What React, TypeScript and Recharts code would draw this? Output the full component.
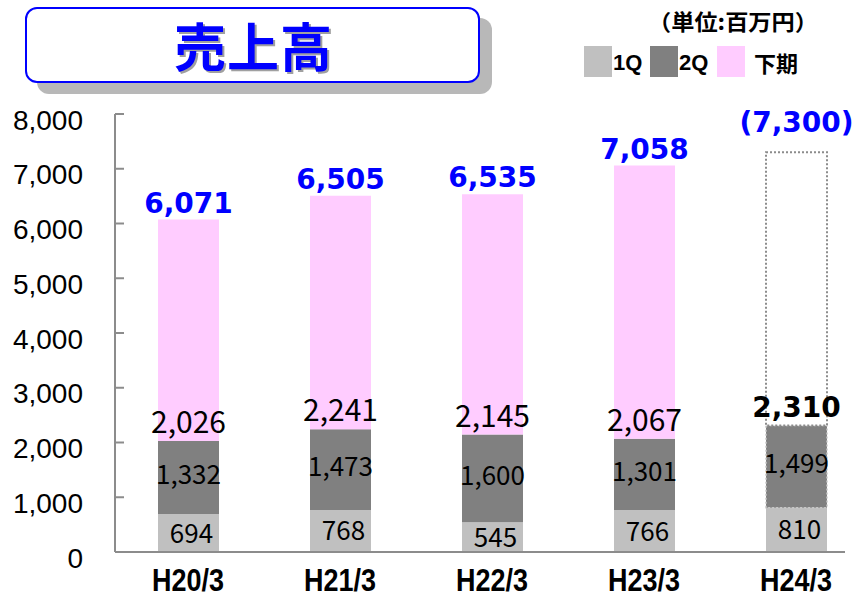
import React from 'react';
import { BarChart, Bar, XAxis, YAxis, Cell, LabelList } from 'recharts';

const categories = ['H20/3', 'H21/3', 'H22/3', 'H23/3', 'H24/3'];
const q1Values = [694, 768, 545, 766, 810];
const q2Values = [1332, 1473, 1600, 1301, 1499];
const firstHalfTotals = [2026, 2241, 2145, 2067, 2310];
const yearTotals = [6071, 6505, 6535, 7058, 7300];
const forecastIndex = 4;
const yTicks = [0, 1000, 2000, 3000, 4000, 5000, 6000, 7000, 8000];

const BLUE = '#0000ff';
const JP = '"Noto Sans CJK JP", "Noto Sans", sans-serif';

const chartData = categories.map((name, i) => ({
  name,
  q1: q1Values[i],
  q2: q2Values[i],
  h2: yearTotals[i] - q1Values[i] - q2Values[i],
}));

const fmt = (v: number) => v.toLocaleString('en-US');

const YTick = (props: any) => {
  const { x, y, payload } = props;
  return (
    <g>
      <line x1={x} y1={y} x2={x + 9} y2={y} stroke="#8c8c8c" strokeWidth={2} />
      <text
        x={x - 32}
        y={y + 6}
        textAnchor="end"
        dominantBaseline="central"
        fontFamily='"Liberation Sans", Arial, sans-serif'
        fontSize={28}
        fill="#000"
      >
        {fmt(payload.value)}
      </text>
    </g>
  );
};

const XTick = (props: any) => {
  const { x, y, payload } = props;
  return (
    <text
      x={x}
      y={y + 39}
      textAnchor="middle"
      fontFamily='"Liberation Sans", Arial, sans-serif'
      fontWeight="bold"
      fontSize={31}
      textLength={72}
      lengthAdjust="spacingAndGlyphs"
      fill="#000"
    >
      {payload.value}
    </text>
  );
};

const q1Label = (props: any) => {
  const x = Number(props.x), y = Number(props.y), w = Number(props.width), h = Number(props.height);
  return (
    <text x={x + w / 2 + 3} y={y + h / 2 - 2} textAnchor="middle" dominantBaseline="central"
      fontFamily={JP} fontSize={26} fill="#000">
      {fmt(q1Values[props.index])}
    </text>
  );
};

const q2Label = (props: any) => {
  const x = Number(props.x), y = Number(props.y), w = Number(props.width), h = Number(props.height);
  return (
    <text x={x + w / 2} y={y + h / 2 - 5} textAnchor="middle" dominantBaseline="central"
      fontFamily={JP} fontSize={26} fill="#000">
      {fmt(q2Values[props.index])}
    </text>
  );
};

const halfLabel = (props: any) => {
  const x = Number(props.x), y = Number(props.y), w = Number(props.width);
  const i = props.index;
  if (i === forecastIndex) {
    return (
      <text x={x + w / 2} y={y - 9} textAnchor="middle"
        fontFamily='"DejaVu Sans", sans-serif' fontWeight="bold" fontSize={28} fill="#000">
        {fmt(firstHalfTotals[i])}
      </text>
    );
  }
  return (
    <text x={x + w / 2} y={y - 8} textAnchor="middle" fontFamily={JP} fontSize={30} fill="#000">
      {fmt(firstHalfTotals[i])}
    </text>
  );
};

const totalLabel = (props: any) => {
  const x = Number(props.x), y = Number(props.y), w = Number(props.width);
  const i = props.index;
  const isForecast = i === forecastIndex;
  return (
    <text x={x + w / 2} y={isForecast ? y - 20 : y - 7} textAnchor="middle"
      fontFamily='"DejaVu Sans", sans-serif' fontWeight="bold" fontSize={28} fill={BLUE}>
      {isForecast ? `(${fmt(yearTotals[i])})` : fmt(yearTotals[i])}
    </text>
  );
};

export default function App() {
  return (
    <div style={{ position: 'absolute', left: 0, top: 0, width: 856, height: 603, background: '#fff', overflow: 'hidden' }}>
      {/* title box with shadow */}
      <div style={{
        position: 'absolute', left: 25, top: 7, width: 451, height: 72,
        border: `2px solid ${BLUE}`, borderRadius: 12, background: '#fff',
        boxShadow: '12px 11px 0 #b8b8b8',
        display: 'flex', alignItems: 'center', justifyContent: 'center',
      }}>
        <span style={{
          fontFamily: JP, fontWeight: 'bold', fontSize: 52, color: BLUE,
          textShadow: '2px 2px 0 #a0a0a0', letterSpacing: 1, marginLeft: 2, lineHeight: '60px',
        }}>売上高</span>
      </div>

      {/* unit + legend */}
      <svg width={856} height={90} style={{ position: 'absolute', left: 0, top: 0 }}>
        <text x={733} y={30} textAnchor="middle" fontFamily={JP} fontWeight="bold" fontSize={22}
          textLength={170} lengthAdjust="spacingAndGlyphs" fill="#000">
          （単位:百万円）
        </text>
      </svg>
      {[
        { label: '1Q', color: '#c0c0c0', left: 584, textLeft: 613 },
        { label: '2Q', color: '#808080', left: 650, textLeft: 679 },
        { label: '下期', color: '#ffccff', left: 717, textLeft: 754 },
      ].map((it) => (
        <React.Fragment key={it.label}>
          <div style={{ position: 'absolute', left: it.left, top: 46, width: 28, height: 31, background: it.color }} />
          <div style={{
            position: 'absolute', left: it.textLeft, top: 47, height: 31, lineHeight: '31px',
            fontFamily: it.label === '下期' ? JP : '"Liberation Sans", Arial, sans-serif',
            fontWeight: 'bold', fontSize: 22, color: '#000',
          }}>{it.label}</div>
        </React.Fragment>
      ))}

      <div style={{ position: 'absolute', left: 0, top: 0 }}>
        <BarChart
          width={856}
          height={603}
          data={chartData}
          margin={{ top: 114, right: 11, bottom: 0, left: 0 }}
          barSize={61}
        >
          <XAxis
            dataKey="name"
            height={51}
            axisLine={{ stroke: '#8c8c8c', strokeWidth: 2 }}
            tickLine={false}
            tickSize={0}
            tickMargin={0}
            tick={<XTick />}
            interval={0}
            padding={{ left: -3, right: -27 }}
          />
          <YAxis
            width={115}
            domain={[0, 8000]}
            ticks={yTicks}
            interval={0}
            axisLine={{ stroke: '#8c8c8c', strokeWidth: 2 }}
            tickLine={false}
            tickSize={0}
            tickMargin={0}
            tick={<YTick />}
          />
          <Bar dataKey="q1" stackId="a" fill="#c0c0c0" isAnimationActive={false}>
            <LabelList dataKey="q1" content={q1Label} />
          </Bar>
          <Bar dataKey="q2" stackId="a" fill="#808080" isAnimationActive={false}>
            {chartData.map((d, i) => (
              <Cell key={d.name} fill="#808080"
                stroke={i === forecastIndex ? '#c8c8c8' : 'none'}
                strokeDasharray={i === forecastIndex ? '2 2' : undefined}
                strokeWidth={i === forecastIndex ? 1.5 : 0} />
            ))}
            <LabelList dataKey="q2" content={q2Label} />
            <LabelList dataKey="q2" content={halfLabel} />
          </Bar>
          <Bar dataKey="h2" stackId="a" fill="#ffccff" isAnimationActive={false}>
            {chartData.map((d, i) => (
              <Cell key={d.name}
                fill={i === forecastIndex ? '#ffffff' : '#ffccff'}
                stroke={i === forecastIndex ? '#8c8c8c' : 'none'}
                strokeDasharray={i === forecastIndex ? '2 2' : undefined}
                strokeWidth={i === forecastIndex ? 2 : 0} />
            ))}
            <LabelList dataKey="h2" content={totalLabel} />
          </Bar>
        </BarChart>
      </div>
    </div>
  );
}
